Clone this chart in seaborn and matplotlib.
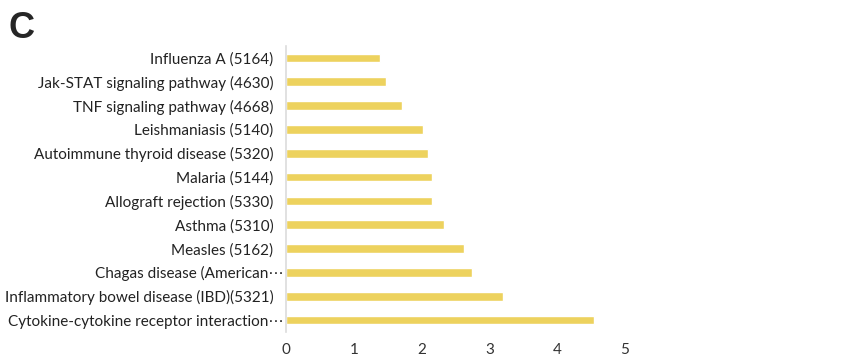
import matplotlib
matplotlib.use("Agg")
import matplotlib.pyplot as plt
import seaborn as sns
import pandas as pd

pathways = [
    "Influenza A (5164)",
    "Jak-STAT signaling pathway (4630)",
    "TNF signaling pathway (4668)",
    "Leishmaniasis (5140)",
    "Autoimmune thyroid disease (5320)",
    "Malaria (5144)",
    "Allograft rejection (5330)",
    "Asthma (5310)",
    "Measles (5162)",
    "Chagas disease (American\u22ef",
    "Inflammatory bowel disease (IBD)(5321)",
    "Cytokine-cytokine receptor interaction\u22ef",
]
values = [1.39, 1.47, 1.71, 2.02, 2.10, 2.16, 2.16, 2.33, 2.62, 2.74, 3.20, 4.55]
xticks = [0, 1, 2, 3, 4, 5]

sns.set_theme(style="white")
plt.rcParams["font.family"] = ["Lato", "DejaVu Sans"]

df = pd.DataFrame({"pathway": pathways, "value": values})

fig = plt.figure(figsize=(8.59, 3.58), dpi=100)
ax = fig.add_axes([286 / 859, 1 - 332 / 358, 339 / 859, 286 / 358])
sns.barplot(data=df, y="pathway", x="value", order=pathways, color="#EDD25E",
            saturation=1, width=0.37, ax=ax)
ax.set_xlim(0, 5)
ax.set_xticks(xticks)
ax.set_xlabel("")
ax.set_ylabel("")
for s in ["top", "right", "bottom"]:
    ax.spines[s].set_visible(False)
ax.spines["left"].set_color("#dcdcdc")
ax.spines["left"].set_linewidth(1.2)
ax.tick_params(axis="y", length=0, pad=9, labelsize=11, labelcolor="#222222")
ax.tick_params(axis="x", length=0, pad=8, labelsize=11, labelcolor="#333333")

for tick, name in zip(ax.yaxis.get_major_ticks(), pathways):
    if name.endswith("\u22ef"):
        tick.set_pad(2)

fig.text(9 / 859, 1 - 28 / 358, "C", fontsize=26, fontweight="bold",
         family=["Liberation Sans", "DejaVu Sans"], va="center", ha="left")

fig.savefig("out.png", dpi=100)
